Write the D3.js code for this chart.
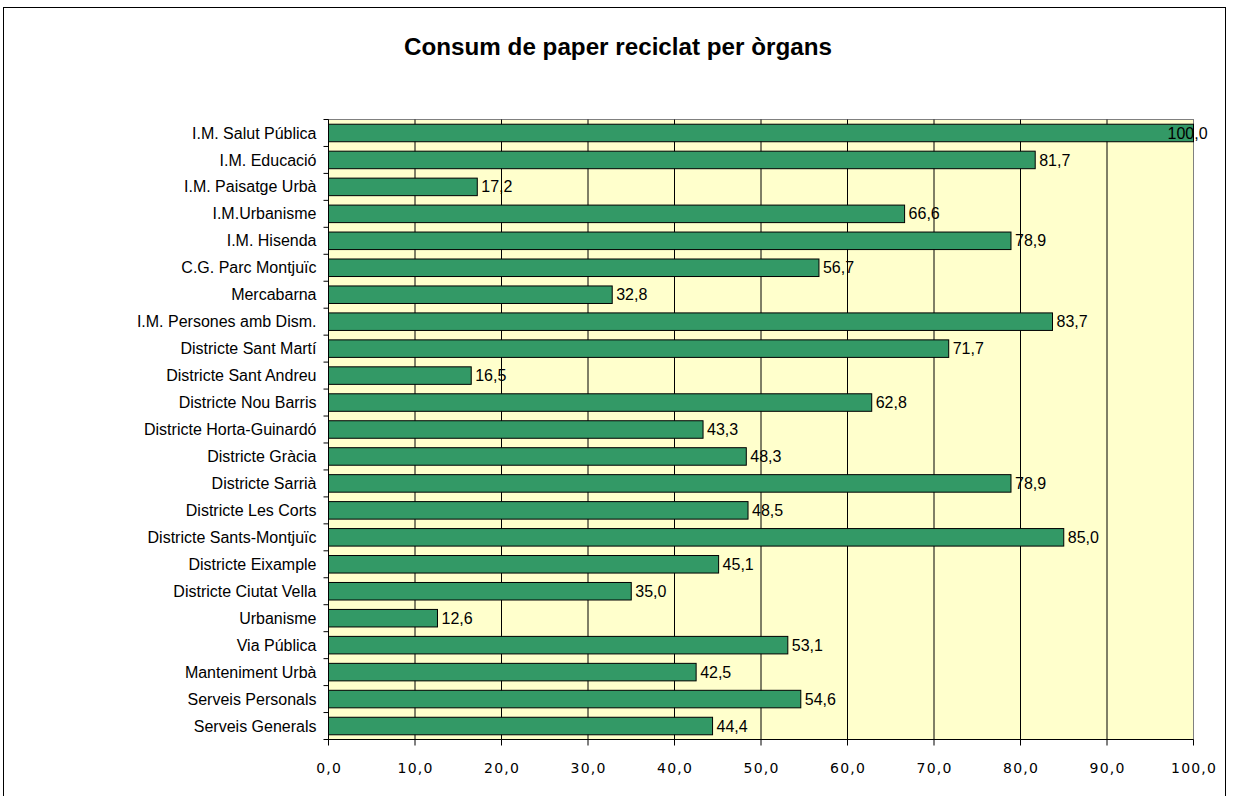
<!DOCTYPE html>
<html><head><meta charset="utf-8">
<script src="https://cdn.jsdelivr.net/npm/d3@7"></script>
<style>body{margin:0;background:#fff}</style>
</head><body>
<script>
const categories = ["I.M. Salut Pública","I.M. Educació","I.M. Paisatge Urbà","I.M.Urbanisme","I.M. Hisenda","C.G. Parc Montjuïc","Mercabarna","I.M. Persones amb Dism.","Districte Sant Martí","Districte Sant Andreu","Districte Nou Barris","Districte Horta-Guinardó","Districte Gràcia","Districte Sarrià","Districte Les Corts","Districte Sants-Montjuïc","Districte Eixample","Districte Ciutat Vella","Urbanisme","Via Pública","Manteniment Urbà","Serveis Personals","Serveis Generals"];
const values = [100.0,81.7,17.2,66.6,78.9,56.7,32.8,83.7,71.7,16.5,62.8,43.3,48.3,78.9,48.5,85.0,45.1,35.0,12.6,53.1,42.5,54.6,44.4];
const xTicks = [0,10,20,30,40,50,60,70,80,90,100];
const title = "Consum de paper reciclat per òrgans";

const W = 1234, H = 796;
const svg = d3.select("body").append("svg").attr("width", W).attr("height", H);
svg.append("rect").attr("x",3.5).attr("y",7.5).attr("width",1222).attr("height",800)
  .attr("fill","#fff").attr("stroke","#000").attr("stroke-width",1);

const L = 328.5, R = 1193.5, T = 119.5, B = 739.5;
const x = d3.scaleLinear().domain([0,100]).range([L,R]);
const y = d3.scaleBand().domain(categories).range([T,B]).paddingInner(0.35).paddingOuter(0.175);
const yb = d3.scaleBand().domain(categories).range([T,B]);

svg.append("rect").attr("x",L).attr("y",T).attr("width",R-L).attr("height",B-T)
  .attr("fill","#FFFFCC").attr("stroke","#808080");

svg.append("g").selectAll("line").data(xTicks.slice(1,-1)).join("line")
  .attr("x1",d=>x(d)).attr("x2",d=>x(d)).attr("y1",T).attr("y2",B)
  .attr("stroke","#000").attr("stroke-width",1);

svg.append("g").selectAll("rect").data(values).join("rect")
  .attr("x",L).attr("y",(d,i)=>y(categories[i]))
  .attr("width",d=>x(d)-L).attr("height",y.bandwidth())
  .attr("fill","#339966").attr("stroke","#000").attr("stroke-width",1);

// y axis
const ya = svg.append("g");
ya.append("line").attr("x1",L).attr("x2",L).attr("y1",T).attr("y2",B).attr("stroke","#000");
ya.selectAll("line.t").data(categories.concat(["_end"])).join("line").attr("class","t")
  .attr("x1",L-5).attr("x2",L).attr("y1",(d,i)=>i<categories.length?yb(d):B).attr("y2",(d,i)=>i<categories.length?yb(d):B)
  .attr("stroke","#000");
ya.selectAll("text").data(categories).join("text")
  .attr("x",L-12).attr("y",d=>yb(d)+yb.bandwidth()/2).attr("dy","0.35em")
  .attr("text-anchor","end").attr("font-family","Liberation Sans, Arial").attr("font-size",16)
  .attr("fill","#000").text(d=>d);

// x axis
const xa = svg.append("g");
xa.append("line").attr("x1",L).attr("x2",R).attr("y1",B).attr("y2",B).attr("stroke","#000");
xa.selectAll("line.t").data(xTicks).join("line").attr("class","t")
  .attr("x1",d=>x(d)).attr("x2",d=>x(d)).attr("y1",B).attr("y2",B+6).attr("stroke","#000");
xa.selectAll("text").data(xTicks).join("text")
  .attr("x",d=>x(d)+0.6).attr("y",768).attr("dy","0.35em").attr("text-anchor","middle")
  .attr("font-family","DejaVu Sans, Verdana").attr("font-size",14).attr("letter-spacing",1.2).attr("fill","#000")
  .text(d=>d.toFixed(1).replace(".",","));

// value labels
svg.append("g").selectAll("text").data(values).join("text")
  .attr("x",d=>Math.min(x(d)+4, R-26)).attr("y",(d,i)=>yb(categories[i])+yb.bandwidth()/2).attr("dy","0.35em")
  .attr("font-family","Liberation Sans, Arial").attr("font-size",16).attr("fill","#000")
  .text(d=>d.toFixed(1).replace(".",","));

svg.append("text").attr("x",618).attr("y",47).attr("dy","0.35em").attr("text-anchor","middle")
  .attr("font-family","Liberation Sans, Arial").attr("font-weight","bold").attr("font-size",23.5)
  .attr("textLength",428).attr("lengthAdjust","spacingAndGlyphs")
  .attr("fill","#000").text(title);
</script>
</body></html>
